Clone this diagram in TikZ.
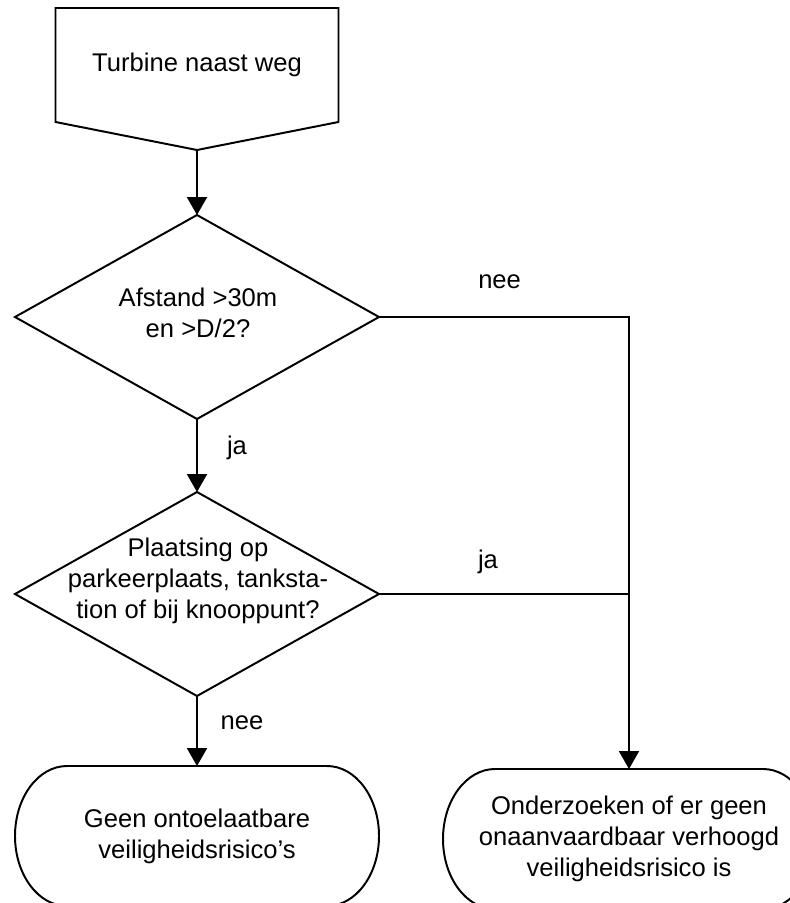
\documentclass[tikz,border=0pt]{standalone}
\usepackage{fontspec}
\setmainfont{Liberation Sans}
\usetikzlibrary{calc,shapes.geometric,arrows.meta}

\begin{document}
\begin{tikzpicture}[every node/.style={font=\fontsize{18.2}{22}\selectfont,align=center,outer sep=0},
  line width=1.4pt,
  decision/.style={diamond,draw,minimum width=9.1cm,minimum height=5.1cm},
  terminal/.style={minimum width=#1,minimum height=3.5cm},
  flow/.style={-{Triangle[length=0.45cm,width=0.5cm]}}]
\useasboundingbox (0,0) rectangle (19.75,-22.575);
\clip (0,0) rectangle (19.75,-22.575);

\node[minimum width=7.075cm,minimum height=2.85cm] (start) at (4.925,-1.625) {Turbine naast weg};
\coordinate (start-tip) at ($(start.south)+(0,-0.7)$);
\draw (start.south west) -- (start.north west) -- (start.north east) -- (start.south east) -- (start-tip) -- cycle;

\node[decision] (q1) at (4.925,-7.925) {};
\node (q1-text) at (4.95,-7.81) {Afstand >30m\\en >D/2?};
\node[decision] (q2) at (4.925,-14.85) {};
\node (q2-text) at (4.95,-14.525) {Plaatsing op\\parkeerplaats, tanksta-\\tion of bij knooppunt?};

\node[terminal=9.1cm] (safe) at (4.925,-20.9) {Geen ontoelaatbare\\veiligheidsrisico’s};
\node[terminal=9.3cm] (study) at (15.725,-20.975) {Onderzoeken of er geen\\onaanvaardbaar verhoogd\\veiligheidsrisico is};
\foreach \n in {safe,study}
  \draw ($(\n.north west)+(1.3,0)$) -- ($(\n.north east)-(1.3,0)$) arc[start angle=90,end angle=-90,x radius=1.3,y radius=1.75]
    -- ($(\n.south west)+(1.3,0)$) arc[start angle=270,end angle=90,x radius=1.3,y radius=1.75] -- cycle;

\draw[flow] (start-tip) -- (q1.north);
\draw[flow] (q1.south) -- (q2.north);
\draw[flow] (q2.south) -- (safe.north);
\draw[flow] (q1.east) -| (study.north);
\draw (q2.east) -- (q2.east -| study.north);

\node (nee-1) at (12.49,-7.05) {nee};
\node (ja-1) at (5.925,-11.2) {ja};
\node (ja-2) at (12.2,-14.05) {ja};
\node (nee-2) at (6.05,-18.075) {nee};
\end{tikzpicture}
\end{document}
